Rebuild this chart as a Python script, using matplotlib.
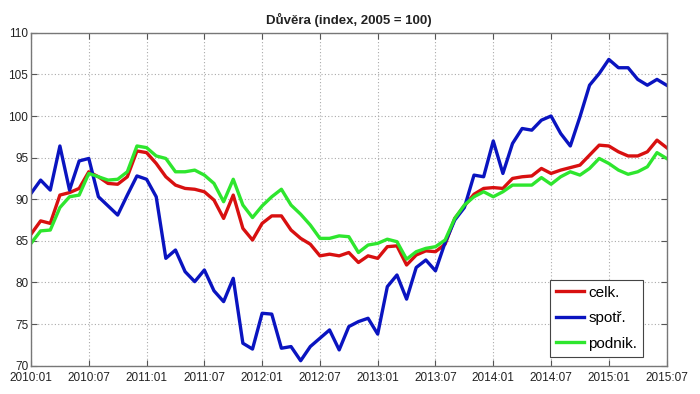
import matplotlib
matplotlib.use("Agg")
import matplotlib.pyplot as plt
import numpy as np

plt.rcParams['font.family'] = ['Liberation Sans', 'DejaVu Sans']

title = "Důvěra (index, 2005 = 100)"
labels = ["celk.", "spotř.", "podnik."]
colors = ["#d81010", "#0a14c0", "#2ee62e"]

celk = [85.8, 87.4, 87.1, 90.5, 90.8, 91.3, 93.3, 92.7, 91.9, 91.8, 92.7, 95.8, 95.6,
        94.3, 92.7, 91.7, 91.3, 91.2, 90.9, 89.9, 87.7, 90.5, 86.5, 85.1, 87.1, 88.0,
        88.0, 86.3, 85.3, 84.6, 83.2, 83.4, 83.2, 83.6, 82.4, 83.2, 82.9, 84.3, 84.4,
        82.1, 83.3, 83.8, 83.7, 84.6, 87.7, 89.2, 90.6, 91.3, 91.4, 91.3, 92.5, 92.7,
        92.8, 93.7, 93.1, 93.5, 93.8, 94.1, 95.3, 96.5, 96.4, 95.7, 95.2, 95.2, 95.7,
        97.1, 96.2]
spotr = [90.7, 92.3, 91.1, 96.4, 91.1, 94.6, 94.9, 90.3, 89.2, 88.1, 90.5, 92.8, 92.4,
         90.3, 82.9, 83.9, 81.3, 80.1, 81.5, 79.0, 77.7, 80.5, 72.7, 72.0, 76.3, 76.2,
         72.1, 72.3, 70.6, 72.3, 73.3, 74.3, 71.9, 74.7, 75.3, 75.7, 73.8, 79.5, 80.9,
         78.0, 81.8, 82.7, 81.4, 84.8, 87.5, 89.0, 92.9, 92.7, 97.0, 93.1, 96.7, 98.5,
         98.3, 99.5, 100.0, 97.9, 96.4, 99.9, 103.7, 105.1, 106.8, 105.8, 105.8, 104.4,
         103.7, 104.4, 103.7]
podnik = [84.7, 86.2, 86.3, 89.0, 90.3, 90.5, 93.1, 92.7, 92.3, 92.4, 93.3, 96.4, 96.2,
          95.2, 94.9, 93.3, 93.3, 93.5, 92.9, 91.9, 89.7, 92.4, 89.3, 87.8, 89.2, 90.3,
          91.2, 89.3, 88.2, 86.9, 85.3, 85.3, 85.6, 85.5, 83.6, 84.5, 84.7, 85.2, 84.9,
          82.8, 83.7, 84.1, 84.3, 85.1, 87.7, 89.3, 90.3, 90.9, 90.3, 90.9, 91.7, 91.7,
          91.7, 92.6, 91.8, 92.7, 93.3, 92.9, 93.7, 94.9, 94.3, 93.5, 93.0, 93.3, 93.9,
          95.6, 94.9]

tick_labels = ["2010:01", "2010:07", "2011:01", "2011:07", "2012:01", "2012:07",
               "2013:01", "2013:07", "2014:01", "2014:07", "2015:01", "2015:07"]
yticks = [70, 75, 80, 85, 90, 95, 100, 105, 110]

x = np.arange(len(celk))

fig = plt.figure(figsize=(7.0, 3.94), dpi=100)
ax = fig.add_axes([0.0443, 0.0718, 0.908, 0.845])

for s, lab, c in zip([celk, spotr, podnik], labels, colors):
    ax.plot(x, s, color=c, lw=2.4, label=lab, solid_joinstyle='round')

ax.set_xlim(0, len(celk) - 1)
ax.set_ylim(70, 110)
ax.set_xticks(np.arange(0, len(celk), 6))
ax.set_xticklabels(tick_labels)
ax.set_yticks(yticks)
ax.tick_params(direction='in', top=True, right=True, labelsize=8.5, length=4,
               color='#555555', labelcolor='#222222', pad=2)
ax.tick_params(axis='x', pad=4.5)
ax.grid(True, linestyle=(0, (1, 2)), color='#aaaaaa', lw=0.8)
for sp in ax.spines.values():
    sp.set_color('#777777')
    sp.set_linewidth(1.0)

ax.set_title(title, fontsize=9.5, fontweight='bold', pad=6, color='#222222')

leg = ax.legend(loc='lower right', bbox_to_anchor=(0.963, 0.027), borderaxespad=0,
                fontsize=11, fancybox=False, edgecolor='#444444', framealpha=1,
                handlelength=1.8, handletextpad=0.3, labelspacing=0.75,
                borderpad=0.4)
leg.get_frame().set_linewidth(0.8)

fig.savefig("out.png", dpi=100)
